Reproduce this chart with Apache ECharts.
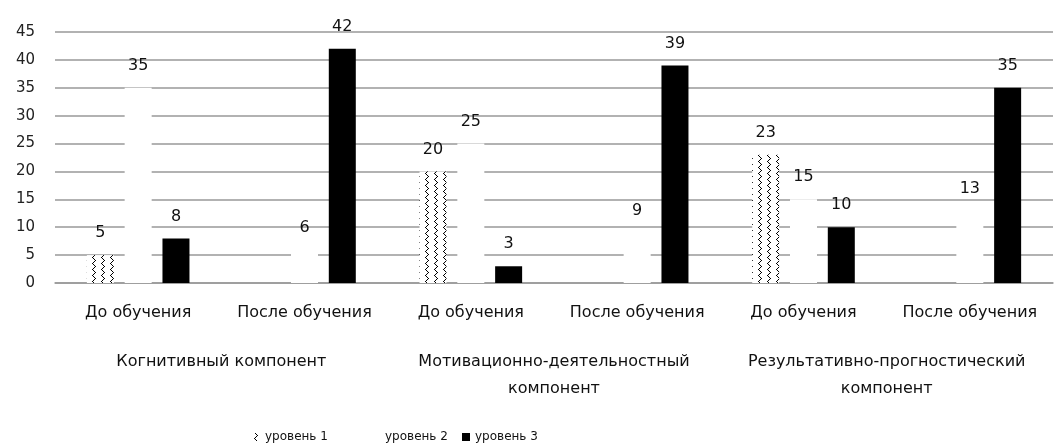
<!DOCTYPE html>
<html>
<head>
<meta charset="utf-8">
<script src="https://cdn.jsdelivr.net/npm/echarts@6/dist/echarts.min.js"></script>
<style>
html,body{margin:0;padding:0;background:#fff;}
#chart{width:1055px;height:446px;}
</style>
</head>
<body>
<div id="chart"></div>
<script>
const categories = ['До обучения','После обучения','До обучения','После обучения','До обучения','После обучения'];
const groups = ['Когнитивный компонент','Мотивационно-деятельностный компонент','Результативно-прогностический компонент'];
const seriesNames = ['уровень 1','уровень 2','уровень 3'];
const level1 = [5, 0, 20, 0, 23, 0];
const level2 = [35, 6, 25, 9, 15, 13];
const level3 = [8, 42, 3, 39, 10, 35];
const yTicks = {min: 0, max: 45, interval: 5};

function makePattern(){
  const c = document.createElement('canvas');
  c.width = 9; c.height = 6;
  const g = c.getContext('2d');
  g.fillStyle = '#fff'; g.fillRect(0,0,9,6);
  g.fillStyle = '#000';
  const xs = [3,4,5,4,3,2];
  for (let y = 0; y < 6; y++) { g.fillRect(xs[y], y, 1, 1); }
  return c;
}
const pattern = {image: makePattern(), repeat: 'repeat'};

const FONT = 'DejaVu Sans';
const chart = echarts.init(document.getElementById('chart'));
const labelCfg = {
  show: true, position: 'top', distance: 14, color: '#111', fontSize: 16, fontFamily: FONT,
  formatter: p => (p.value ? String(p.value) : '')
};
const legendText = {fontSize: 12, fontFamily: FONT, color: '#111'};
chart.setOption({
  animation: false,
  backgroundColor: '#fff',
  grid: {left: 55, right: 2, top: 32, bottom: 163},
  legend: [
    {data: [seriesNames[0]], left: 247, top: 426, icon: 'rect', itemWidth: 8, itemHeight: 8, textStyle: legendText},
    {data: [seriesNames[1]], left: 367, top: 426, icon: 'rect', itemWidth: 8, itemHeight: 8, textStyle: legendText},
    {data: [seriesNames[2]], left: 457, top: 426, icon: 'rect', itemWidth: 8, itemHeight: 8, textStyle: legendText}
  ],
  xAxis: [
    {type: 'category', data: categories, gridIndex: 0,
     axisLine: {lineStyle: {color: '#999', width: 1.5}}, axisTick: {show: false},
     axisLabel: {margin: 22, fontSize: 16, fontFamily: FONT, color: '#111', interval: 0}},
    {type: 'category', data: groups, gridIndex: 0, position: 'bottom', offset: 65,
     axisLine: {show: false}, axisTick: {show: false},
     axisLabel: {margin: 0, fontSize: 16, fontFamily: FONT, color: '#111', interval: 0, lineHeight: 27,
       formatter: s => (s.length > 25 ? s.replace(/ (\S+)$/, '\n$1') : s)}}
  ],
  yAxis: {type: 'value', min: yTicks.min, max: yTicks.max, interval: yTicks.interval,
    axisLine: {show: false}, axisTick: {show: false},
    axisLabel: {margin: 20, fontSize: 15, fontFamily: FONT, color: '#222'},
    splitLine: {lineStyle: {color: '#999', width: 1.5}}},
  series: [
    {name: seriesNames[0], type: 'bar', data: level1, barWidth: 27, barGap: '40%',
     itemStyle: {color: pattern}, label: labelCfg},
    {name: seriesNames[1], type: 'bar', data: level2, barWidth: 27, barGap: '40%',
     itemStyle: {color: '#fff'}, label: labelCfg},
    {name: seriesNames[2], type: 'bar', data: level3, barWidth: 27, barGap: '40%',
     itemStyle: {color: '#000'}, label: labelCfg}
  ]
});
</script>
</body>
</html>
